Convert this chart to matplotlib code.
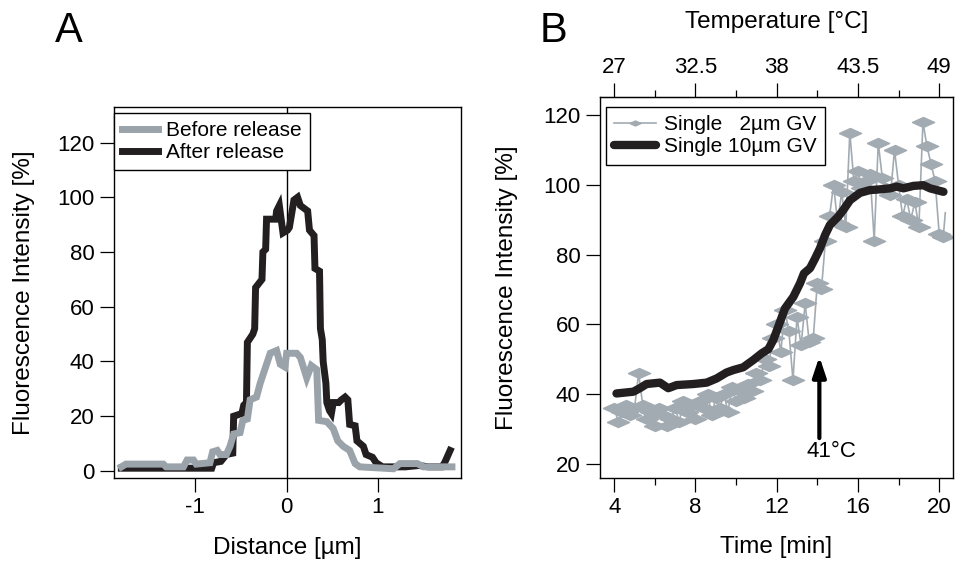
import matplotlib
matplotlib.use("Agg")
import matplotlib.pyplot as plt
from matplotlib.ticker import MultipleLocator, FixedLocator

plt.rcParams['font.family'] = ['Liberation Sans', 'DejaVu Sans']
plt.rcParams['axes.unicode_minus'] = False

GRAY = '#9ba3aa'
BLACK = '#231f20'

# panel A: intensity profile across the vesicle
dist_after = [-1.81, -0.82, -0.80, -0.72, -0.66, -0.59, -0.58, -0.49, -0.47, -0.44,
              -0.43, -0.37, -0.35, -0.34, -0.27, -0.26, -0.23, -0.22, -0.12, -0.11,
              -0.08, -0.04, 0.01, 0.03, 0.05, 0.08, 0.12, 0.15, 0.19, 0.23,
              0.25, 0.30, 0.31, 0.36, 0.37, 0.39, 0.40, 0.43, 0.44, 0.47,
              0.49, 0.51, 0.57, 0.60, 0.64, 0.67, 0.69, 0.75, 0.77, 0.84,
              0.87, 0.94, 0.98, 1.05, 1.30, 1.45, 1.55, 1.70, 1.73, 1.77, 1.79]
int_after = [1, 1, 3, 3.5, 6, 6.5, 20, 21, 24, 25,
             47, 50, 52, 67, 70, 80, 81, 92, 92, 95,
             97, 87, 88, 89, 93, 99, 100, 97, 96, 95,
             88, 86, 74, 73, 52, 48, 40, 32, 25, 22,
             21, 25, 25, 26, 27, 26, 17, 16.5, 11, 9,
             6, 5, 3, 1.5, 1.5, 2, 1.5, 1.5, 3, 6, 7.5]

dist_before = [-1.81, -1.76, -1.35, -1.32, -1.13, -1.09, -1.02, -0.99, -0.84, -0.81,
               -0.76, -0.73, -0.66, -0.62, -0.58, -0.51, -0.48, -0.43, -0.40, -0.33,
               -0.29, -0.22, -0.18, -0.11, -0.07, -0.02, 0.00, 0.11, 0.15, 0.22,
               0.27, 0.33, 0.35, 0.44, 0.51, 0.56, 0.62, 0.69, 0.75, 0.80,
               1.17, 1.24, 1.43, 1.50, 1.81]
int_before = [1.5, 2.5, 2.5, 1.5, 1.5, 4, 4, 2.5, 3, 7,
              7.5, 6, 6, 9, 13.5, 14, 18.5, 19, 26, 27,
              32, 39, 43, 44, 39, 38, 43, 43, 41.5, 34,
              38.5, 37, 18.5, 18, 15.5, 11, 9, 7.5, 2.7, 1.5,
              0.8, 2.7, 2.7, 1.5, 1.5]

# panel B: intensity vs time during heating
time_10 = [4.11, 4.94, 5.26, 5.59, 6.25, 6.66, 7.07, 7.89, 8.55, 9.04,
           9.53, 9.86, 10.35, 10.85, 11.26, 11.59, 11.83, 12.08, 12.41, 12.82,
           13.15, 13.34, 13.64, 13.89, 14.13, 14.38, 14.62, 15.03, 15.28, 15.61,
           16.10, 16.59, 17.09, 17.58, 17.91, 18.24, 18.73, 19.22, 19.55, 19.88, 20.21]
int_10 = [40.2, 40.7, 41.7, 42.9, 43.3, 41.7, 42.6, 42.9, 43.3, 44.5,
          46.2, 46.9, 47.7, 49.8, 51.7, 52.9, 55.5, 59.4, 64.6, 67.9,
          71.8, 74.6, 76.1, 78.9, 81.8, 85.6, 88.5, 90.9, 92.8, 95.6,
          97.7, 98.5, 98.7, 99.0, 99.5, 99.0, 99.7, 99.9, 99.0, 98.5, 98.0]

time_2 = [4.0, 4.2, 4.4, 4.6, 4.8, 5.0, 5.2, 5.4, 5.6, 5.8,
          6.0, 6.2, 6.4, 6.6, 6.8, 7.0, 7.2, 7.4, 7.6, 7.8,
          8.0, 8.2, 8.4, 8.6, 8.8, 9.0, 9.2, 9.4, 9.6, 9.8,
          10.0, 10.2, 10.4, 10.6, 10.8, 11.0, 11.2, 11.4, 11.6, 11.8,
          12.0, 12.2, 12.4, 12.6, 12.8, 13.0, 13.2, 13.4, 13.6, 13.8,
          14.0, 14.2, 14.4, 14.6, 14.8, 15.0, 15.2, 15.4, 15.6, 15.8,
          16.0, 16.2, 16.4, 16.6, 16.8, 17.0, 17.2, 17.4, 17.6, 17.8,
          18.0, 18.2, 18.4, 18.6, 18.8, 19.0, 19.2, 19.4, 19.6, 19.8,
          20.0, 20.2, 20.3]
int_2 = [36, 32, 35, 37, 34, 36, 46, 37, 33, 35,
         31, 36, 34, 31, 33, 36, 32, 38, 35, 37,
         33, 38, 36, 40, 34, 39, 36, 40, 35, 42,
         38, 41, 39, 43, 41, 46, 44, 50, 48, 56,
         60, 52, 64, 58, 44, 62, 54, 66, 55, 56,
         72, 70, 84, 91, 100, 89, 98, 88, 115, 101,
         104, 99, 101, 103, 84, 112, 102, 99, 97, 110,
         100, 91, 96, 90, 95, 88, 118, 111, 106, 101,
         86, 85, 92]

temp_ticks = [27, 32.5, 38, 43.5, 49]

fig = plt.figure(figsize=(9.55, 5.61), dpi=100)
axA = fig.add_axes([0.1194, 0.1488, 0.3634, 0.6605])
axB = fig.add_axes([0.6283, 0.1488, 0.3696, 0.6778])

tick_kw = dict(direction='out', length=10, width=0.9, labelsize=16, pad=4)

# --- A ---
axA.axvline(0, color='black', lw=1, zorder=1)
axA.plot(dist_before, int_before, color=GRAY, lw=5, label='Before release',
         solid_joinstyle='miter', zorder=3)
axA.plot(dist_after, int_after, color=BLACK, lw=5, label='After release',
         solid_joinstyle='miter', zorder=2)
axA.set_xlim(-1.89, 1.91)
axA.set_ylim(-2.4, 133)
axA.set_xticks([-1, 0, 1])
axA.set_yticks([0, 20, 40, 60, 80, 100, 120])
axA.tick_params(**tick_kw)
axA.set_xlabel('Distance [µm]', fontsize=17.5, labelpad=14)
axA.set_ylabel('Fluorescence Intensity [%]', fontsize=17.5, labelpad=16)
legA = axA.legend(loc='upper left', bbox_to_anchor=(0.0, 0.985), borderaxespad=0,
                  fontsize=15, frameon=True, fancybox=False, framealpha=1,
                  edgecolor='black', handlelength=1.7, handletextpad=0.4,
                  labelspacing=0.15, borderpad=0.4)
legA.get_frame().set_linewidth(1)

# --- B ---
diamond = [(-1, 0), (0, 0.45), (1, 0), (0, -0.45), (-1, 0)]
axB.plot(time_2, int_2, color='#a3abb2', lw=1.2, marker=diamond, markersize=16,
         markevery=slice(0, len(time_2) - 1), label='Single   2µm GV', zorder=2)
axB.plot(time_10, int_10, color=BLACK, lw=6, label='Single 10µm GV',
         solid_capstyle='round', zorder=3)
axB.annotate('', xy=(14.1, 50.8), xytext=(14.1, 27.4),
             arrowprops=dict(arrowstyle='-|>,head_length=1.2,head_width=0.4',
                             color='black', lw=3, shrinkA=0, shrinkB=0))
axB.text(14.67, 23.6, '41°C', fontsize=16, ha='center', va='center')
axB.set_xlim(3.3, 20.68)
axB.set_ylim(16.1, 125.1)
axB.xaxis.set_major_locator(MultipleLocator(4))
axB.xaxis.set_minor_locator(FixedLocator([6, 10, 14, 18]))
axB.set_yticks([20, 40, 60, 80, 100, 120])
axB.tick_params(**tick_kw)
axB.tick_params(which='minor', direction='out', length=5, width=0.9)
axB.set_xlabel('Time [min]', fontsize=17.5, labelpad=13)
axB.set_ylabel('Fluorescence Intensity [%]', fontsize=17.5, labelpad=18)

top = axB.secondary_xaxis('top', functions=(lambda t: 27 + (t - 4) * 1.375,
                                            lambda c: 4 + (c - 27) / 1.375))
top.set_xticks(temp_ticks)
top.set_xticklabels(['27', '32.5', '38', '43.5', '49'])
top.xaxis.set_minor_locator(FixedLocator([29.75, 35.25, 40.75, 46.25]))
top.tick_params(**tick_kw)
top.tick_params(which='minor', direction='out', length=5, width=0.9)
top.set_xlabel('Temperature [°C]', fontsize=17.5, labelpad=21)

legB = axB.legend(loc='upper left', bbox_to_anchor=(0.017, 0.975), borderaxespad=0,
                  fontsize=15, frameon=True, fancybox=False, framealpha=1,
                  edgecolor='black', handlelength=2.0, handletextpad=0.4,
                  labelspacing=0.15, borderpad=0.4, markerscale=0.5)
legB.get_frame().set_linewidth(1)

for ax in (axA, axB):
    for s in ax.spines.values():
        s.set_linewidth(1)

fig.text(0.057, 0.945, 'A', fontsize=30, ha='left', va='center')
fig.text(0.565, 0.945, 'B', fontsize=30, ha='left', va='center')

fig.savefig('out.png', dpi=100)
